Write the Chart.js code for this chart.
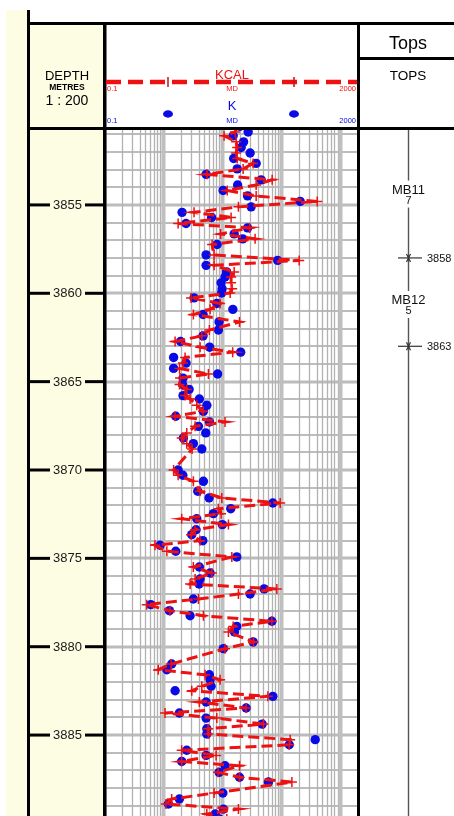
<!DOCTYPE html>
<html>
<head>
<meta charset="utf-8">
<script src="https://cdn.jsdelivr.net/npm/chart.js@4/dist/chart.umd.min.js"></script>
<style>
  html, body { margin: 0; padding: 0; background: #fff; overflow: hidden; }
  #wrap { position: relative; width: 454px; height: 816px; }
</style>
</head>
<body>
<div id="wrap"><canvas id="logChart" width="454" height="816"></canvas></div>
<script>
// core samples: depth (m MD), measured K and calculated KCAL (mD)
const DEPTH = [
  3850.55, 3850.87, 3851.09, 3851.43, 3851.75, 3852.06, 3852.37, 3852.65, 3852.96, 3853.27,
  3853.58, 3853.87, 3854.18, 3854.49, 3854.80, 3855.11, 3855.42, 3855.71, 3856.05, 3856.30,
  3856.64, 3856.92, 3857.24, 3857.83, 3858.14, 3858.42, 3858.79, 3859.08, 3859.41, 3859.75,
  3859.98, 3860.26, 3860.58, 3860.91, 3861.20, 3861.62, 3862.08, 3862.41, 3862.73, 3863.05,
  3863.33, 3863.63, 3863.95, 3864.25, 3864.57, 3864.80, 3865.16, 3865.44, 3865.79, 3865.98,
  3866.34, 3866.68, 3866.96, 3867.28, 3867.53, 3867.90, 3868.19, 3868.51, 3868.81, 3870.00,
  3870.30, 3870.64, 3871.20, 3871.58, 3871.87, 3872.19, 3872.47, 3872.76, 3873.09, 3873.38,
  3873.66, 3874.00, 3874.26, 3874.60, 3874.92, 3875.49, 3875.83, 3876.17, 3876.45, 3876.73,
  3877.02, 3877.30, 3877.62, 3877.96, 3878.25, 3878.56, 3878.85, 3879.17, 3879.73, 3880.11,
  3880.98, 3881.30, 3881.59, 3881.87, 3882.24, 3882.49, 3882.81, 3883.13, 3883.47, 3883.75,
  3884.04, 3884.38, 3884.64, 3884.94, 3885.26, 3885.55, 3885.86, 3886.15, 3886.49, 3886.74,
  3887.11, 3887.39, 3887.66, 3888.28, 3888.62, 3888.90, 3889.19, 3889.47, 3889.75
];
const K = [
  20, 27.6, 15.4, 23.1, 21.0, 29.8, 15.7, 37.7, 18.0, 5.36,
  45.8, 18.3, 10.4, 27.0, 210, 31.0, 2.10, 6.64, 2.45, 27.0,
  16.0, 22.3, 8.22, 5.36, 87.2, 5.36, 11.9, 11.2, 9.62, 10.0,
  9.81, 3.35, 8.13, 15.2, 4.76, 8.89, 8.65, 4.76, 1.98, 6.14,
  20.6, 1.51, 2.45, 1.51, 8.39, 2.18, 2.14, 2.76, 2.18, 4.12,
  5.51, 4.82, 1.64, 6.09, 3.97, 5.29, 2.21, 3.26, 4.53, 1.80,
  2.16, 4.82, 3.87, 6.02, 72.3, 14.0, 7.12, 3.72, 10.1, 3.62,
  3.06, 4.71, 0.89, 1.64, 17.7, 4.12, 6.26, 4.24, 4.07, 51.5,
  29.8, 3.26, 0.62, 1.28, 2.87, 69.6, 17.7, 16.2, 33.5, 10.5,
  1.40, 1.16, 6.09, 6.26, 6.51, 1.60, 72.3, 5.36, 25.5, 1.89,
  5.36, 47.6, 5.51, 5.51, 377, 137, 2.52, 5.36, 2.07, 11.2,
  8.89, 19.7, 60.9, 10.3, 1.89, 1.23, 10.5, 7.61, 9
];
const KCAL = [
  17.7, 16.6, 10.8, 17.3, 18.0, 17.3, 18.0, 33.5, 22.7, 5.57,
  70.4, 37.7, 12.2, 37.7, 408, 18.9, 3.35, 14.2, 1.80, 29.2,
  9.43, 36.2, 6.77, 7.32, 202, 7.32, 16.0, 14.2, 14.2, 14.8,
  13.7, 2.98, 9.25, 6.26, 3.26, 19.7, 6.09, 4.53, 1.60, 4.24,
  15.1, 2.36, 2.18, 1.90, 5.86, 1.94, 1.90, 2.52, 2.36, 2.87,
  3.72, 4.76, 1.60, 11.2, 3.49, 2.52, 2.07, 2.52, 3.10, 1.51,
  1.80, 3.26, 4.24, 9.88, 96.2, 8.65, 9.62, 2.07, 12.8, 3.49,
  2.98, 4.24, 0.73, 1.16, 14.6, 3.26, 6.69, 3.49, 2.87, 84.6,
  18.9, 3.97, 0.53, 1.31, 4.82, 69.6, 15.4, 12.8, 34.0, 11.2,
  1.37, 0.83, 5.15, 9.25, 4.53, 3.06, 59.5, 4.12, 25.5, 1.08,
  8.13, 50.1, 5.79, 5.86, 142, 137, 2.07, 7.91, 2.07, 19.7,
  8.55, 19.7, 152, 7.32, 1.40, 1.12, 18.9, 5.51, 12
];

// axes / annotations
const DEPTH_MIN = 3850.76, DEPTH_MAX = 3889.58;
const PERM_MIN = 0.1, PERM_MAX = 2000;
const DEPTH_LABELS = [3855, 3860, 3865, 3870, 3875, 3880, 3885];
const SCALE_LABELS = ['0.1', 'MD', '2000'];
const TOP_PICKS = [3858, 3863];
const ZONE_NAMES = ['MB11', 'MB12'];
const ZONE_NUMS = ['7', '5'];
const ZONE_MIDS = [3854.3, 3860.55];

const RED = '#ee1111';
const BLUE = '#0a0ae6';
const CREAM = '#fdfde4';
const FONT = '"Liberation Sans", Arial, sans-serif';

// grid positions of the log track: 1..9 per decade
const X_GRID = [];
[0.1, 1, 10, 100, 1000].forEach(dec => {
  for (let m = 1; m <= 9; m++) {
    const v = +(dec * m).toPrecision(3);
    if (v <= PERM_MAX) X_GRID.push(v);
  }
});
const Y_GRID = [];
for (let d = Math.ceil(DEPTH_MIN); d <= DEPTH_MAX; d++) Y_GRID.push(d);

function isDecade(v) {
  const l = Math.log10(v);
  return Math.abs(l - Math.round(l)) < 1e-6;
}

const logFrame = {
  id: 'logFrame',
  beforeDraw(chart) {
    const c = chart.ctx;
    c.save();
    c.fillStyle = '#ffffff';
    c.fillRect(0, 0, chart.width, chart.height);
    c.fillStyle = CREAM;
    c.fillRect(6, 10, 21, chart.height - 10);
    c.fillRect(30, 25, 73, chart.height - 25);
    c.restore();
  },
  beforeDatasetsDraw(chart) {
    //Grid of the log track, placed through the chart's scales
    const c = chart.ctx, a = chart.chartArea;
    const x = chart.scales.x, y = chart.scales.y;
    c.save();
    c.beginPath(); c.rect(a.left, a.top, a.right - a.left, a.bottom - a.top); c.clip();
    Y_GRID.forEach(d => {
      const py = Math.round(y.getPixelForValue(d));
      c.strokeStyle = '#bcbcbc';
      c.lineWidth = d % 5 === 0 ? 3 : 2;
      c.beginPath(); c.moveTo(a.left, py); c.lineTo(a.right, py); c.stroke();
    });
    X_GRID.forEach(v => {
      const px = Math.round(x.getPixelForValue(v)) + 0.5;
      const dec = isDecade(v);
      c.strokeStyle = dec ? '#bfbfbf' : '#b2b2b2';
      c.lineWidth = dec ? 4 : 1.3;
      c.beginPath(); c.moveTo(px, a.top); c.lineTo(px, a.bottom); c.stroke();
    });
    c.restore();
  },
  afterDraw(chart) {
    const c = chart.ctx;
    const y = chart.scales.y;
    const H = chart.height;
    c.save();

    //Depth track: 5 m ticks with labels
    c.textAlign = 'center';
    c.textBaseline = 'middle';
    c.font = '13px ' + FONT;
    DEPTH_LABELS.forEach(d => {
      const py = y.getPixelForValue(d);
      c.fillStyle = '#000';
      c.fillRect(30, py - 1.5, 20, 3);
      c.fillRect(85, py - 1.5, 18, 3);
      c.fillStyle = '#1a1a1a';
      c.fillText(String(d), 67.5, py + 0.5);
    });

    //Tops track: vertical line broken by zone labels
    const mids = ZONE_MIDS.map(d => y.getPixelForValue(d));
    c.strokeStyle = '#555';
    c.lineWidth = 1.4;
    let from = 130;
    mids.forEach(m => {
      c.beginPath(); c.moveTo(408.5, from); c.lineTo(408.5, m - 12); c.stroke();
      from = m + 15;
    });
    c.beginPath(); c.moveTo(408.5, from); c.lineTo(408.5, H); c.stroke();

    c.fillStyle = '#111';
    c.textBaseline = 'alphabetic';
    ZONE_NAMES.forEach((n, i) => {
      c.font = '13px ' + FONT;
      c.fillText(n, 408.5, mids[i] + 1);
      c.font = '11px ' + FONT;
      c.fillText(ZONE_NUMS[i], 408.5, mids[i] + 11);
    });

    TOP_PICKS.forEach(d => {
      const py = y.getPixelForValue(d);
      c.strokeStyle = '#333';
      c.lineWidth = 1.2;
      c.beginPath(); c.moveTo(398, py); c.lineTo(422, py); c.stroke();
      c.beginPath();
      c.moveTo(406.5, py - 4); c.lineTo(410.5, py + 4);
      c.moveTo(410.5, py - 4); c.lineTo(406.5, py + 4);
      c.stroke();
      c.fillStyle = '#111';
      c.font = '11px ' + FONT;
      c.textAlign = 'left';
      c.textBaseline = 'middle';
      c.fillText(String(d), 427, py + 1);
      c.textAlign = 'center';
      c.textBaseline = 'alphabetic';
    });

    //Frame lines
    c.fillStyle = '#000';
    c.fillRect(27, 10, 3, H - 10);
    c.fillRect(27, 22, chart.width - 27, 3);
    c.fillRect(27, 127, chart.width - 27, 3);
    c.fillRect(103, 22, 3.5, H - 22);
    c.fillRect(357, 22, 3, H - 22);
    c.fillRect(360, 57, chart.width - 360, 3);

    //Header texts
    c.textAlign = 'center';
    c.textBaseline = 'alphabetic';
    c.fillStyle = '#000';
    c.font = '13px ' + FONT;
    c.fillText('DEPTH', 67, 80);
    c.font = 'bold 8.5px ' + FONT;
    c.fillText('METRES', 67, 90);
    c.font = '14px ' + FONT;
    c.fillText('1 : 200', 67, 105);

    c.font = '18px ' + FONT;
    c.fillText('Tops', 408, 49);
    c.font = '13.5px ' + FONT;
    c.fillText('TOPS', 408, 80);

    // KCAL legend
    c.fillStyle = RED;
    c.font = '13px ' + FONT;
    c.fillText('KCAL', 232, 79);
    c.strokeStyle = RED;
    c.lineWidth = 4.5;
    c.setLineDash([15, 7]);
    c.beginPath(); c.moveTo(106, 82); c.lineTo(357, 82); c.stroke();
    c.setLineDash([]);
    c.lineWidth = 1.5;
    c.strokeStyle = '#cc1010';
    [168, 294].forEach(px => {
      c.beginPath(); c.moveTo(px, 77); c.lineTo(px, 87); c.stroke();
    });
    c.font = '7.5px ' + FONT;
    c.textAlign = 'left'; c.fillText(SCALE_LABELS[0], 107, 91);
    c.textAlign = 'center'; c.fillText(SCALE_LABELS[1], 232, 91);
    c.textAlign = 'right'; c.fillText(SCALE_LABELS[2], 356, 91);

    // K legend
    c.fillStyle = BLUE;
    c.textAlign = 'center';
    c.font = '13px ' + FONT;
    c.fillText('K', 232, 110);
    [168, 294].forEach(px => {
      c.beginPath(); c.ellipse(px, 114, 5, 3.7, 0, 0, Math.PI * 2); c.fill();
    });
    c.font = '7.5px ' + FONT;
    c.textAlign = 'left'; c.fillText(SCALE_LABELS[0], 107, 122.5);
    c.textAlign = 'center'; c.fillText(SCALE_LABELS[1], 232, 122.5);
    c.textAlign = 'right'; c.fillText(SCALE_LABELS[2], 356, 122.5);

    c.restore();
  }
};

const ctx = document.getElementById('logChart');
new Chart(ctx, {
  type: 'scatter',
  data: {
    datasets: [
      {
        label: 'KCAL',
        data: DEPTH.map((d, i) => ({ x: KCAL[i], y: d })),
        showLine: true,
        borderColor: RED,
        borderWidth: 3,
        borderDash: [11, 5],
        pointStyle: 'cross',
        pointRadius: 5,
        pointBorderWidth: 1.5,
        pointBorderColor: RED,
        pointBackgroundColor: RED,
        clip: 0
      },
      {
        label: 'K',
        data: DEPTH.map((d, i) => ({ x: K[i], y: d })),
        showLine: false,
        pointStyle: 'circle',
        pointRadius: 4.7,
        pointBorderWidth: 0,
        pointBackgroundColor: BLUE,
        pointBorderColor: BLUE,
        clip: 0
      }
    ]
  },
  options: {
    responsive: false,
    maintainAspectRatio: false,
    animation: false,
    devicePixelRatio: 1,
    layout: { autoPadding: false, padding: { left: 104, right: 96, top: 130, bottom: 0 } },
    plugins: { legend: { display: false }, tooltip: { enabled: false } },
    scales: {
      x: { type: 'logarithmic', min: PERM_MIN, max: PERM_MAX, display: false },
      y: { type: 'linear', reverse: true, min: DEPTH_MIN, max: DEPTH_MAX, display: false }
    }
  },
  plugins: [logFrame]
});
</script>
</body>
</html>
